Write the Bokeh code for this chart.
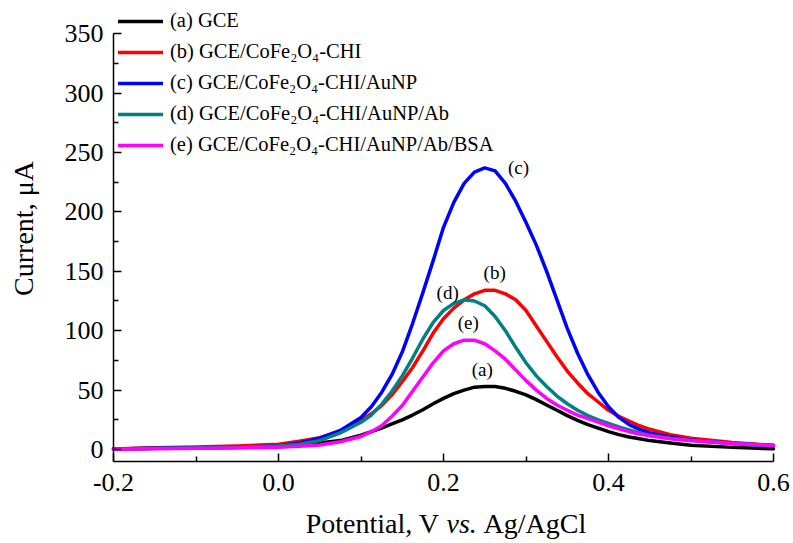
import math
from bokeh.plotting import figure
from bokeh.models import (Range1d, Legend, LegendItem, Label, FixedTicker,
                          NumeralTickFormatter, ColumnDataSource)
from bokeh.core.properties import value
from bokeh.embed import file_html
from bokeh.resources import INLINE

# Differential pulse voltammograms of the electrode modification steps
potential = [-0.2, -0.15, -0.1, -0.05, 0.0, 0.025, 0.05, 0.075,
             0.1, 0.1125, 0.125, 0.1375, 0.15, 0.1625, 0.175, 0.1875, 0.2, 0.2125,
             0.225, 0.2375, 0.25, 0.2625, 0.275, 0.2875, 0.3, 0.3125, 0.325, 0.3375,
             0.35, 0.3625, 0.375, 0.3875, 0.4, 0.4125, 0.425, 0.4375, 0.45,
             0.475, 0.5, 0.55, 0.6]

current_a = [0.5, 1.0, 1.5, 2.0, 2.8, 4.0, 5.5, 7.5,
             12, 15, 18, 21.5, 25, 29, 33.5, 38.5, 43, 47, 50, 52.5, 53, 53, 51.5,
             49, 46, 42, 37.5, 33, 28.5, 24.5, 21, 18, 15, 12.5, 10.5, 9, 7.5,
             5.5, 3.5, 1.8, 0.6]
current_b = [0.5, 1.5, 2.2, 3.0, 4.5, 7.0, 10, 15.5,
             25, 30, 37, 46, 57, 69, 83, 98, 110, 119, 126, 131, 134, 134, 131, 126,
             117, 104, 91, 78, 66, 56, 47, 40, 33, 28, 24, 20, 17,
             12.5, 9.5, 6.0, 3.5]
current_c = [0.5, 1.0, 1.5, 2.0, 3.0, 5.5, 9.5, 16,
             27, 36, 48, 63, 82, 106, 132, 159, 187, 208, 224, 233.5, 237, 234.5, 224,
             209, 191, 172, 150, 126, 102, 81, 63, 48, 36, 27, 21, 17, 14,
             10.5, 8.0, 5.0, 3.4]
current_d = [0.3, 0.8, 1.3, 2.0, 3.0, 4.5, 7.5, 14,
             23, 29, 38, 49, 62, 77, 93, 107, 117, 123, 126, 125, 121, 112, 100, 86,
             73, 62, 53, 45, 38.5, 33, 28.5, 25, 22, 19, 16.5, 14, 12,
             9.5, 7.5, 5.0, 3.4]
current_e = [0.3, 0.6, 1.0, 1.3, 2.0, 2.8, 3.8, 6.5,
             11, 15, 20, 28, 37, 49, 61, 73, 83, 89, 92, 92, 89, 83, 76, 67, 58, 50,
             43, 37.5, 33, 29, 26, 23, 20, 17.5, 15, 13, 11.5,
             9.0, 7.5, 5.0, 3.4]

series_names = ["(a) GCE",
                "(b) GCE/CoFe\u2082O\u2084-CHI",
                "(c) GCE/CoFe\u2082O\u2084-CHI/AuNP",
                "(d) GCE/CoFe\u2082O\u2084-CHI/AuNP/Ab",
                "(e) GCE/CoFe\u2082O\u2084-CHI/AuNP/Ab/BSA"]
series_colors = ["#000000", "#ff0000", "#0000ff", "#008080", "#ff00ff"]

# curve tags placed next to each peak
tag_text = ["(a)", "(b)", "(c)", "(d)", "(e)"]
tag_x = [0.247, 0.262, 0.291, 0.205, 0.230]
tag_y = [67, 149, 237, 132, 107]

x_ticks = [-0.2, 0.0, 0.2, 0.4, 0.6]
x_minor = [-0.1, 0.1, 0.3, 0.5]
y_ticks = [0, 50, 100, 150, 200, 250, 300, 350]
y_minor = [25, 75, 125, 175, 225, 275, 325]

X_MIN, X_MAX = -0.2, 0.6
Y_MIN, Y_MAX = -10, 350

SERIF = "Liberation Serif"
W, H = 793, 543

# the frame fills the page; axes sit at fixed positions inside it
p = figure(width=W, height=H, output_backend="svg", toolbar_location=None,
           x_range=Range1d(-0.33697, 0.62424), y_range=Range1d(-79.1, 377.9),
           min_border=0)
p.outline_line_color = None
p.grid.visible = False
p.background_fill_color = "white"
p.border_fill_color = "white"

p.xaxis.fixed_location = Y_MIN
p.yaxis.fixed_location = X_MIN
p.xaxis.bounds = (X_MIN, X_MAX)
p.yaxis.bounds = (Y_MIN, Y_MAX)

for ax, ticks, minor in ((p.xaxis[0], x_ticks, x_minor), (p.yaxis[0], y_ticks, y_minor)):
    ax.ticker = FixedTicker(ticks=ticks, minor_ticks=minor)
    ax.axis_line_width = 1.5
    ax.axis_line_color = "black"
    ax.major_tick_line_width = 1.5
    ax.minor_tick_line_width = 1.5
    ax.major_tick_line_color = "black"
    ax.minor_tick_line_color = "black"
    ax.major_tick_in = 8
    ax.major_tick_out = 0
    ax.minor_tick_in = 5
    ax.minor_tick_out = 0
    ax.major_label_text_font = SERIF
    ax.major_label_text_font_size = "26px"
    ax.major_label_text_color = "black"

p.xaxis.formatter = NumeralTickFormatter(format="0.0")
p.xaxis.major_label_standoff = 13
p.yaxis.major_label_standoff = 10

currents = [current_a, current_b, current_c, current_d, current_e]
items = []
for name, color, cur in zip(series_names, series_colors, currents):
    src = ColumnDataSource(dict(v=potential, i=cur))
    r = p.line("v", "i", source=src, line_color=color, line_width=3.5,
               line_join="round", line_cap="round")
    items.append(LegendItem(label=name, renderers=[r]))

legend = Legend(items=items, location=(118, 387), padding=0, margin=0,
                border_line_color=None, background_fill_alpha=0,
                label_text_font=SERIF, label_text_font_size="20.5px",
                label_text_color="black", glyph_width=45, glyph_height=22,
                label_height=22, spacing=8, label_standoff=7)
p.add_layout(legend, "center")

tags = ColumnDataSource(dict(x=tag_x, y=tag_y, t=tag_text))
p.text("x", "y", text="t", source=tags, text_font=value(SERIF),
       text_font_size="19px", text_align="center", text_baseline="middle",
       text_color="black")

# axis titles
p.add_layout(Label(x=23, y=315, x_units="screen", y_units="screen",
                   text="Current, \u03bcA", angle=math.pi / 2,
                   text_font=SERIF, text_font_size="28px", text_align="center",
                   text_baseline="middle", text_color="black"))

for txt, sx, align, style in (("Potential, V", 439, "right", "normal"),
                              ("vs.", 446, "left", "italic"),
                              ("Ag/AgCl", 483, "left", "normal")):
    p.add_layout(Label(x=sx, y=20, x_units="screen", y_units="screen", text=txt,
                       text_font=SERIF, text_font_size="28px", text_font_style=style,
                       text_align=align, text_baseline="alphabetic",
                       text_color="black"))

open("out.html", "w").write(file_html(p, INLINE))
